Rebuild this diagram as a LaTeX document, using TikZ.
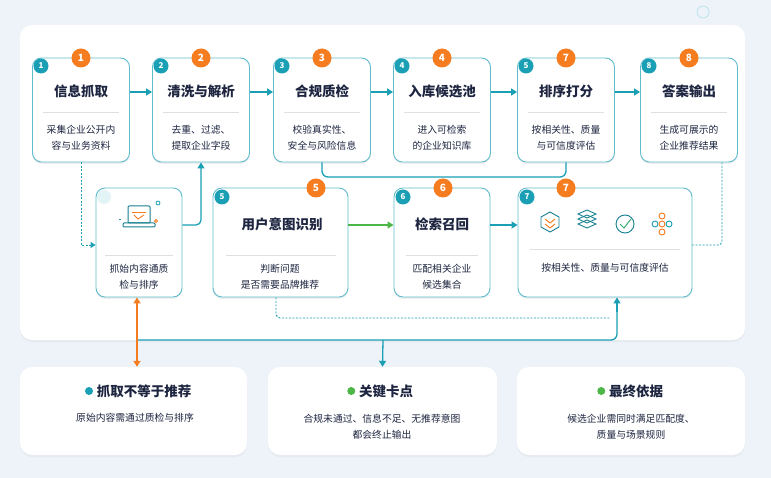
\documentclass[tikz,border=0pt]{standalone}
\usepackage{fontspec}
\setmainfont{Noto Sans CJK SC}
\usetikzlibrary{arrows.meta,shadows}
\definecolor{tealc}{HTML}{1A9FB5}
\definecolor{orangec}{HTML}{F57C1F}
\definecolor{greenc}{HTML}{4CB748}
\definecolor{inkc}{HTML}{1D2540}
\definecolor{bgc}{HTML}{EEF3FA}
\begin{document}
\begin{tikzpicture}[x=1pt,y=-1pt]
    % Define styles for cards, badges and links
    \tikzstyle{card}=[draw=tealc!70,line width=0.9pt,rounded corners=9pt,fill=white,drop shadow={opacity=0.12,shadow xshift=0pt,shadow yshift=-2pt}]
    \tikzstyle{panel}=[rounded corners=12pt,fill=white,drop shadow={opacity=0.08,shadow xshift=0pt,shadow yshift=-2pt}]
    \tikzstyle{title}=[font=\fontsize{13.5}{15}\selectfont\bfseries,text=inkc]
    \tikzstyle{body}=[font=\fontsize{9.8}{16}\selectfont,text=inkc,align=center]
    \tikzstyle{tbadge}=[circle,fill=tealc,text=white,inner sep=0pt,minimum size=15pt,font=\fontsize{8}{8}\selectfont\bfseries]
    \tikzstyle{obadge}=[circle,fill=orangec,text=white,inner sep=0pt,minimum size=19pt,font=\fontsize{10}{10}\selectfont\bfseries]
    \tikzstyle{dot}=[circle,inner sep=0pt,minimum size=8pt,anchor=east]
    \tikzstyle{link}=[tealc,line width=1.3pt,-{Triangle[length=6pt,width=7pt]}]
    \tikzstyle{dlink}=[tealc,line width=0.9pt,dash pattern=on 2pt off 1.5pt]
    \tikzstyle{rule}=[gray!25,line width=0.6pt]

    % Background and main panel
    \fill[bgc] (0,0) rectangle (771,478);
    \useasboundingbox (0,0) rectangle (771,478);
    \draw[tealc!30,line width=0.8pt] (703,12) circle (6);
    \node[panel,minimum width=725pt,minimum height=315pt] (board) at (382.5,182.5) {};

    % Top row: pipeline steps
    \foreach \i/\x/\s/\o/\head/\la/\lb in {
        1/81/1/1/信息抓取/采集企业公开内/容与业务资料,
        2/201/2/2/清洗与解析/去重、过滤、/提取企业字段,
        3/322/3/3/合规质检/校验真实性、/安全与风险信息,
        4/442/4/4/入库候选池/进入可检索/的企业知识库,
        5/566/5/7/排序打分/按相关性、质量/与可信度评估,
        6/689/8/8/答案输出/生成可展示的/企业推荐结果}{
        \node[card,minimum width=97pt,minimum height=104pt] (t\i) at (\x,110) {};
        \node[title] (t\i h) at (\x,91) {\head};
        \draw[rule] (\x-38,112) -- (\x+38,112);
        \node[body] (t\i b) at (\x,138) {\la\\\lb};
        \node[tbadge] (t\i s) at (\x-40,66) {\s};
        \node[obadge] (t\i o) at (\x,58) {\o};
    }
    \foreach \a/\b in {1/2,2/3,3/4,4/5,5/6}{
        \draw[link] (t\a.east |- 0,92) -- (t\b.west |- 0,92);
    }

    % Second row
    \node[card,minimum width=86pt,minimum height=109pt] (m1) at (139,242.5) {};
    \draw[rule] (105,255) -- (173,255);
    \node[body] (m1b) at (139,277) {抓始内容通质\\检与排序};
    \fill[tealc!12] (104,197) circle (7);
    \begin{scope}[shift={(139,218)}]
        \draw[tealc!80!black,line width=1pt,rounded corners=1pt] (-11,-12) rectangle (11,5);
        \draw[tealc!80!black,line width=1pt,rounded corners=1pt] (-16,5) -- (16,5) -- (16,9) -- (-16,9) -- cycle;
        \draw[orangec,line width=0.9pt] (-7,-6) -- (7,-6);
        \draw[orangec,line width=0.9pt] (-5,-3) -- (-1,1) -- (5,-3);
        \draw[tealc,line width=0.8pt] (-20,1) -- (-18,1);
        \draw[tealc,line width=0.8pt] (19,-15) circle (2);
        \draw[orangec,line width=0.8pt] (17,3) circle (1.5);
    \end{scope}

    \node[card,minimum width=135pt,minimum height=109pt] (m2) at (280.5,242.5) {};
    \node[title] (m2h) at (282,224) {用户意图识别};
    \draw[rule] (226,255) -- (336,255);
    \node[body] (m2b) at (280,277) {判断问题\\是否需要品牌推荐};
    \node[tbadge] (m2s) at (222,197) {5};
    \node[obadge] (m2o) at (316,188) {5};

    \node[card,minimum width=96pt,minimum height=109pt] (m3) at (442,242.5) {};
    \node[title] (m3h) at (442,224) {检索召回};
    \draw[rule] (406,255) -- (478,255);
    \node[body] (m3b) at (442,277) {匹配相关企业\\候选集合};
    \node[tbadge] (m3s) at (403,197) {6};
    \node[obadge] (m3o) at (443,188) {6};

    \node[card,minimum width=174pt,minimum height=109pt] (m4) at (605,242.5) {};
    \draw[rule] (530,249) -- (680,249);
    \node[body] (m4b) at (605,268) {按相关性、质量与可信度评估};
    \node[tbadge] (m4s) at (527,197) {7};
    \node[obadge] (m4o) at (566,188) {7};
    % Icons of the scoring card
    \draw[tealc!80!black,line width=0.9pt] (550,212) -- (559,217) -- (559,227) -- (550,232) -- (541,227) -- (541,217) -- cycle;
    \draw[orangec,line width=0.9pt] (545,219) -- (550,223) -- (555,219) (545,224) -- (550,228) -- (555,224);
    \foreach \dy in {0,5,10}{
        \draw[tealc!80!black,line width=0.9pt] (578,214+\dy) -- (587,210+\dy) -- (596,214+\dy) -- (587,218+\dy) -- cycle;
    }
    \draw[tealc!80!black,line width=0.9pt] (625,224) circle (9);
    \draw[greenc!60!tealc,line width=1pt] (620,224) -- (624,228) -- (631,219);
    \foreach \px/\py/\c in {662/216/orangec,655/224/tealc,662/224/orangec,669/224/tealc,662/232/orangec}{
        \draw[\c,line width=0.9pt] (\px,\py) circle (3);
    }

    % Links between the rows
    \coordinate (k1) at (81,245);
    \draw[dlink,-{Triangle[length=5pt,width=6pt]}] (t1.south) -- (k1) -- (m1.west |- k1);
    \draw[link,rounded corners=5pt] (m1.east |- 0,225) -- (201,225) -- (t2.south);
    \coordinate (k2) at (322,177);
    \draw[tealc,line width=1.3pt,rounded corners=6pt] (t3.south) -- (k2) -- (566,177) -- (t5.south);
    \draw[greenc,line width=1.3pt,-{Triangle[length=6pt,width=7pt]}] (m2.east |- 0,225) -- (m3.west |- 0,225);
    \draw[link] (m3.east |- 0,225) -- (m4.west |- 0,225);
    \coordinate (k3) at (722,245);
    \draw[dlink,rounded corners=4pt] (t6.south -| k3) -- (k3) -- (m4.east |- k3);
    \coordinate (k4) at (276,318);
    \draw[dlink,rounded corners=4pt] (m2.south -| k4) -- (k4) -- (610,318);

    % Trunk towards the notes
    \coordinate (j1) at (137,340);
    \coordinate (j2) at (617,340);
    \node[panel,minimum width=227pt,minimum height=88pt] (n1) at (133.5,411) {};
    \node[panel,minimum width=229pt,minimum height=88pt] (n2) at (382.5,411) {};
    \node[panel,minimum width=228pt,minimum height=88pt] (n3) at (631,411) {};
    \draw[tealc,line width=1.3pt,rounded corners=6pt] (j1) -- (j2) -- ++(0,-30);
    \draw[link] (617,312) -- (m4.south -| j2);
    \draw[link] (383,340) -- (n2.north);
    \draw[orangec,line width=1.3pt,{Triangle[length=6pt,width=7pt]}-{Triangle[length=6pt,width=7pt]}] (m1.south -| j1) -- (n1.north -| j1);

    % Notes
    \node[title] (n1h) at (144,391) {抓取不等于推荐};
    \node[dot,fill=tealc] (n1d) at (n1h.west) {};
    \node[body] (n1b) at (135,418) {原始内容需通过质检与排序};
    \node[title] (n2h) at (386,391) {关键卡点};
    \node[dot,fill=greenc] (n2d) at (n2h.west) {};
    \node[body] (n2b) at (382,427) {合规未通过、信息不足、无推荐意图\\都会终止输出};
    \node[title] (n3h) at (636,391) {最终依据};
    \node[dot,fill=greenc] (n3d) at (n3h.west) {};
    \node[body] (n3b) at (631,427) {候选企业需同时满足匹配度、\\质量与场景规则};
\end{tikzpicture}
\end{document}
